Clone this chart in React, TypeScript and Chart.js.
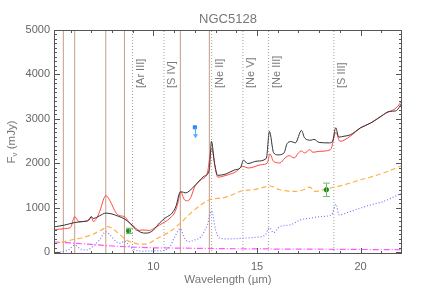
import { useEffect, useRef } from "react";
import { Chart, registerables } from "chart.js";
Chart.register(...registerables);

// ---------- data ----------
const obsX = [5.2, 5.7, 6.2, 6.6, 6.9, 7.0, 7.1, 7.4, 7.7, 8.0, 8.3, 8.6, 8.9, 9.1, 9.3, 9.6, 9.8, 10.0, 10.3, 10.6, 10.9, 11.1, 11.25, 11.35, 11.55, 11.9, 12.2, 12.45, 12.7, 12.8, 12.95, 13.1, 13.5, 13.9, 14.2, 14.35, 14.55, 15.0, 15.45, 15.6, 15.8, 16.0, 16.3, 16.45, 16.65, 16.85, 17.15, 17.3, 17.6, 17.75, 18.0, 18.5, 18.65, 18.8, 18.95, 19.2, 19.5, 20.0, 20.5, 21.0, 21.4, 21.7, 22.0];
const obsY = [570, 610, 668, 690, 730, 800, 760, 820, 880, 860, 810, 750, 640, 560, 470, 430, 440, 500, 660, 780, 880, 1050, 1320, 1360, 1335, 1450, 1600, 1710, 1860, 2495, 2000, 1730, 1760, 1850, 1900, 2070, 1995, 2050, 2110, 2720, 2240, 2190, 2230, 2440, 2490, 2460, 2740, 2570, 2520, 2540, 2470, 2460, 2500, 2800, 2590, 2610, 2640, 2800, 2910, 3060, 3170, 3180, 3360];

const modelX = [5.2, 5.7, 6.0, 6.2, 6.4, 6.8, 7.0, 7.1, 7.4, 7.6, 7.7, 7.9, 8.2, 8.4, 8.6, 8.8, 9.0, 9.2, 9.5, 9.8, 10.0, 10.3, 10.8, 11.05, 11.2, 11.3, 11.5, 11.65, 11.8, 12.0, 12.3, 12.6, 12.81, 13.0, 13.1, 13.5, 14.0, 14.3, 14.6, 15.2, 15.5, 15.62, 15.8, 16.1, 16.35, 16.55, 16.8, 17.0, 17.15, 17.3, 17.55, 17.7, 18.0, 18.55, 18.81, 19.0, 19.5, 20.0, 20.5, 21.1, 21.8, 22.0];
const modelY = [503, 530, 560, 800, 690, 700, 800, 690, 910, 1200, 1275, 1160, 880, 820, 800, 690, 580, 490, 500, 490, 530, 616, 767, 916, 1142, 1367, 1180, 1157, 1230, 1480, 1631, 1782, 2330, 1857, 1690, 1728, 1818, 1931, 1895, 1969, 2008, 2211, 2044, 2008, 2121, 2173, 2121, 2233, 2280, 2233, 2308, 2248, 2270, 2308, 2699, 2495, 2608, 2797, 2910, 3097, 3285, 3430];

const contX = [5.2, 5.7, 6.2, 6.6, 7.0, 7.5, 7.8, 8.1, 8.4, 8.7, 9.0, 9.4, 9.8, 10.2, 10.8, 11.3, 11.8, 12.3, 12.8, 13.3, 13.8, 14.3, 14.8, 15.3, 15.6, 16.1, 16.8, 17.25, 17.55, 17.8, 18.3, 18.9, 19.5, 20.0, 20.5, 21.1, 21.6, 22.0];
const contY = [190, 240, 293, 330, 390, 503, 578, 503, 390, 277, 217, 180, 203, 316, 465, 654, 880, 1067, 1196, 1218, 1293, 1383, 1405, 1458, 1490, 1405, 1367, 1405, 1466, 1367, 1421, 1480, 1556, 1631, 1692, 1782, 1872, 1950];

const pahX = [5.2, 5.6, 5.9, 6.2, 6.5, 6.8, 7.1, 7.4, 7.7, 7.9, 8.2, 8.4, 8.6, 8.9, 9.2, 9.6, 10.0, 10.3, 10.8, 11.0, 11.3, 11.5, 11.7, 12.0, 12.3, 12.6, 12.81, 13.0, 13.2, 13.6, 14.3, 15.0, 15.4, 15.6, 15.8, 16.1, 16.6, 17.1, 17.6, 18.1, 18.6, 18.81, 18.96, 19.5, 20.0, 20.5, 21.1, 21.6, 22.0];
const pahY = [-10, 14, 52, 160, 68, 52, 142, 277, 460, 390, 239, 203, 250, 113, 36, 25, 30, 30, 127, 316, 530, 316, 239, 277, 352, 616, 925, 503, 316, 300, 316, 338, 390, 555, 440, 578, 616, 729, 767, 803, 841, 1080, 841, 916, 993, 1067, 1142, 1241, 1331];

const starX = [5.2, 6.0, 7.0, 8.0, 9.0, 10.0, 12.0, 14.0, 15.5, 15.6, 15.7, 18.0, 20.0, 22.0];
const starY = [230, 210, 175, 140, 115, 100, 88, 78, 75, 85, 72, 68, 62, 55];

const pahLines = [5.65, 6.2, 7.7, 8.6, 11.3, 12.7];
const ionLines = [8.99, 10.51, 12.81, 14.32, 15.56, 18.71];
const ionLabels = ["[Ar III]", "[S IV]", "[Ne II]", "[Ne V]", "[Ne III]", "[S III]"];

const photX = [8.8, 18.35];
const photY = [480, 1405];
const photErr = [60, 150];

const limX = [12.0];
const limY = [2810];

const xTicks = [10, 15, 20];
const yTicks = [0, 1000, 2000, 3000, 4000, 5000];

const X_MIN = 5.2, X_MAX = 22, Y_MIN = -40, Y_MAX = 5000;
const FONT = "'Liberation Sans', Arial, sans-serif";

function pts(xs: number[], ys: number[]) {
  return xs.map((x, i) => ({ x, y: ys[i] }));
}

const decor = {
  id: "decor",
  beforeDatasetsDraw(chart: any) {
    const { ctx, scales } = chart;
    const x = scales.x;
    ctx.save();
    ctx.fillStyle = "#7a7a7a";
    ctx.font = `11px ${FONT}`;
    ionLines.forEach((w, i) => {
      const px = x.getPixelForValue(w) + 8;
      ctx.save();
      ctx.translate(px, 88);
      ctx.rotate(-Math.PI / 2);
      ctx.textAlign = "left";
      ctx.textBaseline = "middle";
      ctx.fillText(ionLabels[i], 0, 0);
      ctx.restore();
    });
    ctx.restore();
  },
  afterDatasetsDraw(chart: any) {
    const { ctx, chartArea: a, scales } = chart;
    const x = scales.x, y = scales.y;
    ctx.save();
    // error bars
    ctx.strokeStyle = "#6cbf6c";
    ctx.lineWidth = 1;
    photX.forEach((w, i) => {
      const px = Math.round(x.getPixelForValue(w)) + 0.5;
      const y1 = y.getPixelForValue(photY[i] - photErr[i]);
      const y2 = y.getPixelForValue(photY[i] + photErr[i]);
      ctx.beginPath();
      ctx.moveTo(px, y1); ctx.lineTo(px, y2);
      ctx.moveTo(px - 3.5, y1); ctx.lineTo(px + 3.5, y1);
      ctx.moveTo(px - 3.5, y2); ctx.lineTo(px + 3.5, y2);
      ctx.stroke();
    });
    // upper limit arrow
    ctx.strokeStyle = "#55aaff";
    ctx.fillStyle = "#55aaff";
    limX.forEach((w, i) => {
      const px = Math.round(x.getPixelForValue(w)) + 0.5;
      const py = y.getPixelForValue(limY[i]);
      ctx.beginPath();
      ctx.moveTo(px, py); ctx.lineTo(px, py + 10);
      ctx.stroke();
      ctx.beginPath();
      ctx.moveTo(px - 2.5, py + 7); ctx.lineTo(px, py + 11); ctx.lineTo(px + 2.5, py + 7);
      ctx.closePath();
      ctx.fill();
    });
    // frame
    ctx.strokeStyle = "#555";
    ctx.lineWidth = 1;
    ctx.strokeRect(a.left + 0.5, a.top + 0.5, a.right - a.left - 1, a.bottom - a.top - 1);
    ctx.beginPath();
    for (let v = 6; v < X_MAX; v++) {
      const len = v % 5 === 0 ? 6 : 3;
      const px = Math.round(x.getPixelForValue(v)) + 0.5;
      ctx.moveTo(px, a.bottom); ctx.lineTo(px, a.bottom - len);
      ctx.moveTo(px, a.top); ctx.lineTo(px, a.top + len);
    }
    for (let v = 0; v < Y_MAX; v += 100) {
      const len = v % 1000 === 0 ? 6 : 3;
      const py = Math.round(y.getPixelForValue(v)) + 0.5;
      ctx.moveTo(a.left, py); ctx.lineTo(a.left + len, py);
      ctx.moveTo(a.right, py); ctx.lineTo(a.right - len, py);
    }
    ctx.stroke();
    ctx.restore();
  },
  afterDraw(chart: any) {
    const { ctx, chartArea: a } = chart;
    ctx.save();
    ctx.fillStyle = "#777";
    const big = `11.5px ${FONT}`, small = `8px ${FONT}`;
    ctx.font = big;
    const wF = ctx.measureText("F").width;
    const wRest = ctx.measureText(" (mJy)").width;
    ctx.font = small;
    const wNu = ctx.measureText("\u03bd").width;
    const total = wF + wNu + wRest;
    ctx.translate(12, (a.top + a.bottom) / 2);
    ctx.rotate(-Math.PI / 2);
    ctx.textBaseline = "middle";
    ctx.textAlign = "left";
    let cx = -total / 2;
    ctx.font = big;
    ctx.fillText("F", cx, 0);
    cx += wF;
    ctx.font = small;
    ctx.fillText("\u03bd", cx, 3);
    cx += wNu;
    ctx.font = big;
    ctx.fillText(" (mJy)", cx, 0);
    ctx.restore();
  },
};

export default function App() {
  const ref = useRef<HTMLCanvasElement>(null);
  useEffect(() => {
    if (!ref.current) return;
    const vlines: any[] = [];
    pahLines.forEach((w) =>
      vlines.push({
        data: [{ x: w, y: Y_MIN }, { x: w, y: Y_MAX }],
        borderColor: "#c49c88",
        borderWidth: 1,
        pointRadius: 0,
        order: 10,
      })
    );
    ionLines.forEach((w) =>
      vlines.push({
        data: [{ x: w, y: Y_MIN }, { x: w, y: Y_MAX }],
        borderColor: "#a0a0a0",
        borderWidth: 1,
        borderDash: [1, 2],
        pointRadius: 0,
        order: 10,
      })
    );
    const chart = new Chart(ref.current, {
      type: "line",
      data: {
        datasets: [
          { data: pts(obsX, obsY), borderColor: "#333", borderWidth: 1, pointRadius: 0, cubicInterpolationMode: "monotone", order: 1 },
          { data: pts(modelX, modelY), borderColor: "#ff4646", borderWidth: 1, pointRadius: 0, cubicInterpolationMode: "monotone", order: 2 },
          { data: pts(contX, contY), borderColor: "#ffb040", borderWidth: 1.2, borderDash: [5, 3], pointRadius: 0, cubicInterpolationMode: "monotone", order: 3 },
          { data: pts(pahX, pahY), borderColor: "#7878ff", borderWidth: 1.2, borderDash: [1, 2], pointRadius: 0, cubicInterpolationMode: "monotone", order: 4 },
          { data: pts(starX, starY), borderColor: "#ff55ff", borderWidth: 1.2, borderDash: [6, 2, 1, 2], pointRadius: 0, order: 5 },
          { data: pts(photX, photY), showLine: false, pointRadius: 2.2, pointBackgroundColor: "#1e8a1e", pointBorderColor: "#1e8a1e", order: 0 },
          { data: pts(limX, limY), showLine: false, pointStyle: "rect", pointRadius: 2.2, pointBackgroundColor: "#2288ff", pointBorderColor: "#2288ff", order: 0 },
          ...vlines,
        ] as any,
      },
      options: {
        responsive: false,
        animation: false,
        devicePixelRatio: 1,
        layout: { padding: { left: 0, right: 34, top: 0, bottom: 0 } },
        plugins: {
          legend: { display: false },
          tooltip: { enabled: false },
          title: {
            display: true,
            text: "NGC5128",
            color: "#777",
            fullSize: false,
            font: { family: FONT, size: 13, weight: "normal" },
            padding: { top: 11.4, bottom: 3 },
          },
        },
        scales: {
          x: {
            type: "linear",
            min: X_MIN,
            max: X_MAX,
            afterBuildTicks: (s: any) => { s.ticks = xTicks.map((v) => ({ value: v })); },
            afterFit: (s: any) => { s.height = 37; },
            grid: { display: false, drawTicks: false },
            border: { display: false },
            ticks: { color: "#666", font: { family: FONT, size: 11 }, padding: 6, maxRotation: 0, autoSkip: false, callback: (v: any) => String(v) },
            title: { display: true, text: "Wavelength (\u00b5m)", color: "#777", font: { family: FONT, size: 11.5 }, padding: { top: 0, bottom: 4 } },
          },
          y: {
            type: "linear",
            min: Y_MIN,
            max: Y_MAX,
            afterBuildTicks: (s: any) => { s.ticks = yTicks.map((v) => ({ value: v })); },
            afterFit: (s: any) => { s.width = 54; },
            grid: { display: false, drawTicks: false },
            border: { display: false },
            ticks: { color: "#666", font: { family: FONT, size: 11 }, padding: 4, autoSkip: false, callback: (v: any) => String(v) },
          },
        },
      } as any,
      plugins: [decor],
    });
    return () => chart.destroy();
  }, []);
  return (
    <div style={{ position: "fixed", left: 0, top: 0, width: 436, height: 291, background: "#fff" }}>
      <canvas ref={ref} width={436} height={291} style={{ width: 436, height: 291 }} />
    </div>
  );
}
